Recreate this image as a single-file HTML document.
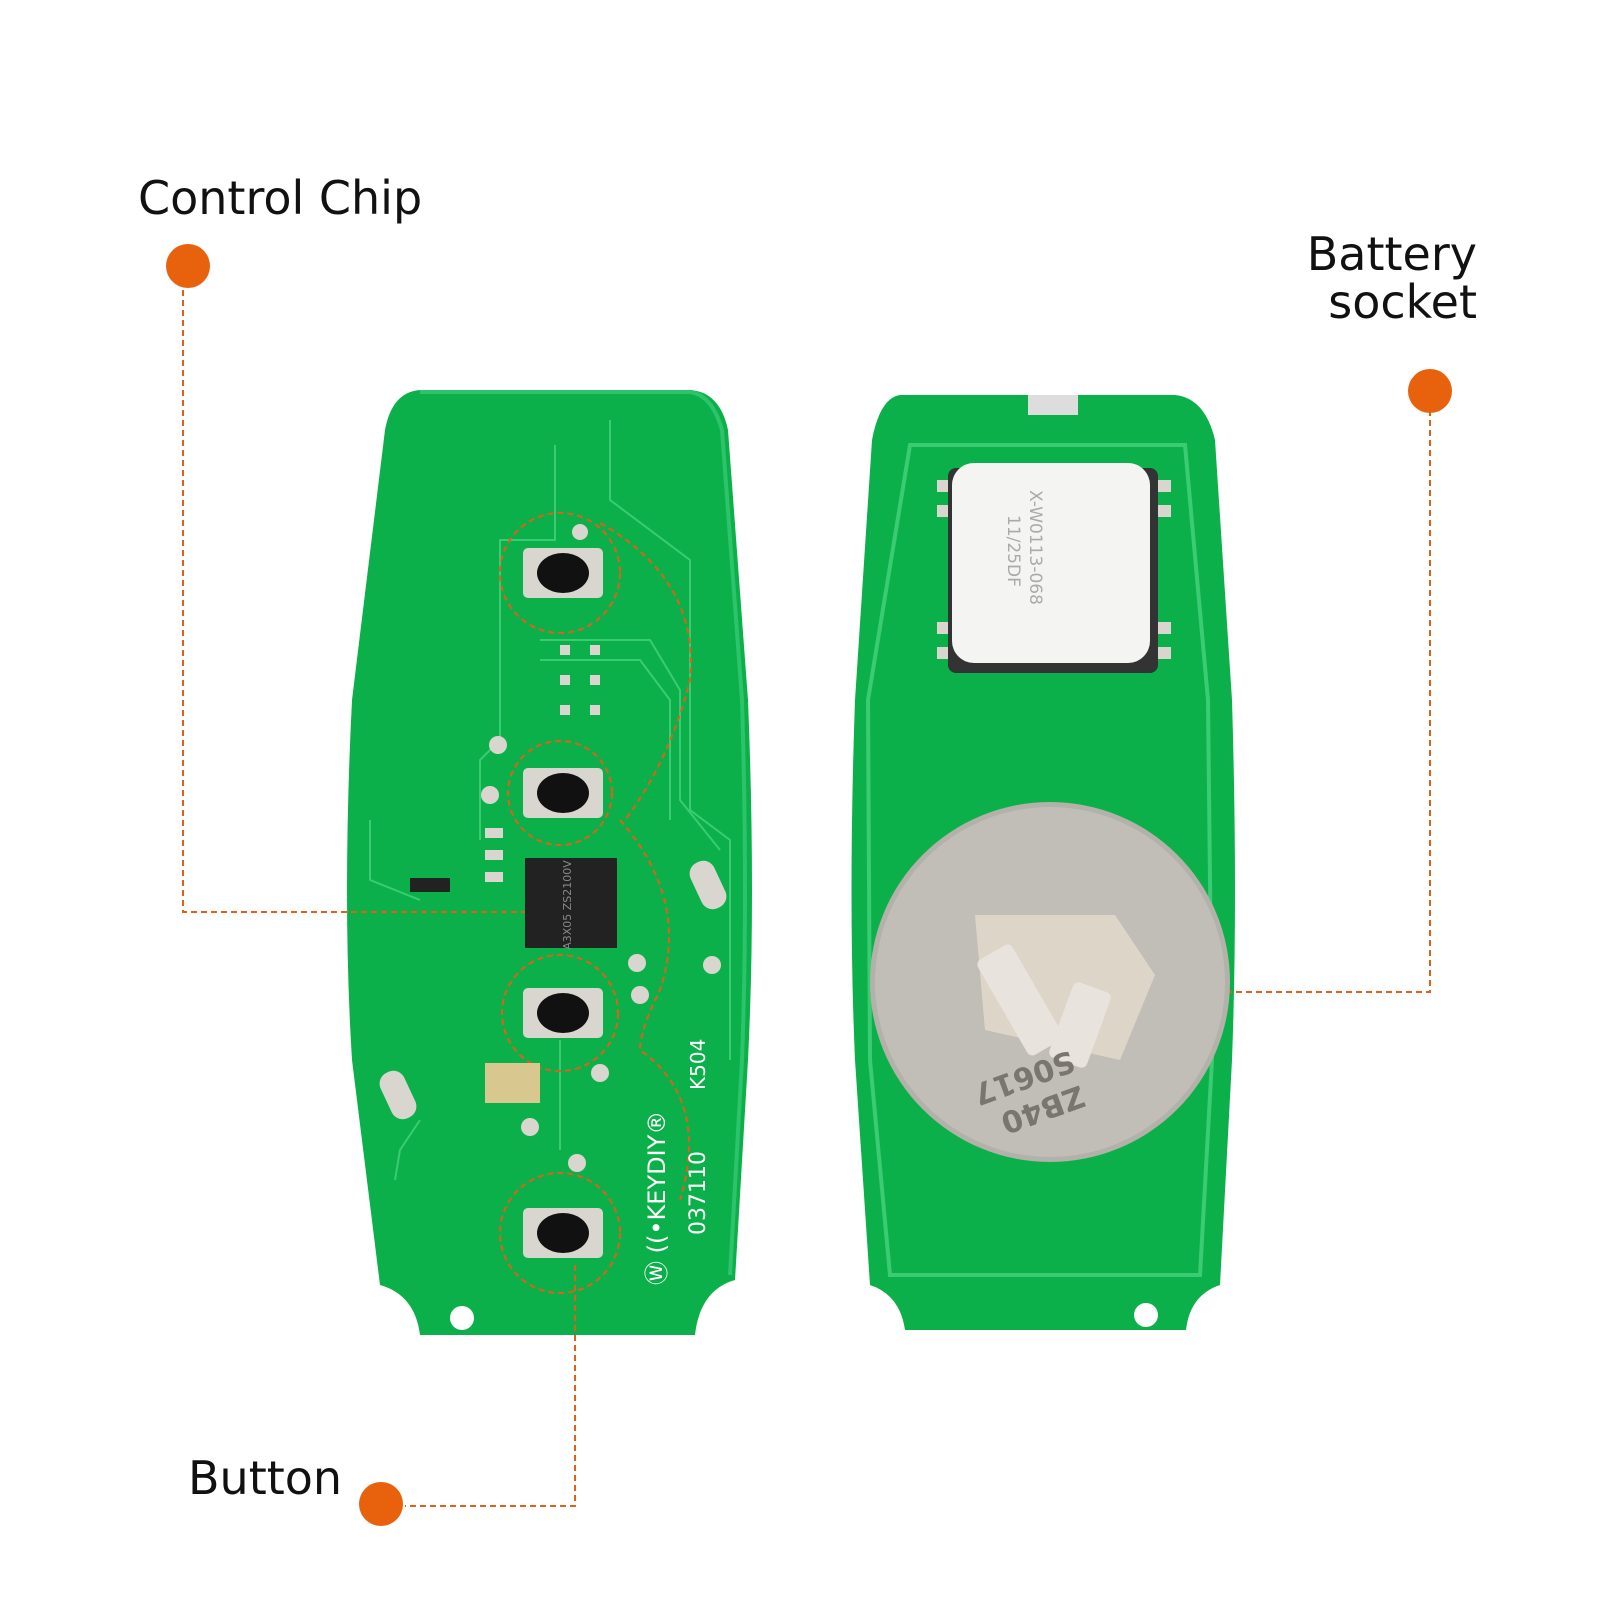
<!DOCTYPE html>
<html><head><meta charset="utf-8"><style>
html,body{margin:0;padding:0;background:#fff;}
svg{display:block}
text{font-family:"DejaVu Sans","Liberation Sans",sans-serif;}
</style></head><body>
<svg width="1600" height="1600" viewBox="0 0 1600 1600" xmlns="http://www.w3.org/2000/svg">
<rect width="1600" height="1600" fill="#fff"/>
<!-- left PCB -->
<path d="M420,390 L690,390 Q720,392 728,430 L748,700 Q756,900 748,1060 L735,1280 Q700,1290 695,1335 L420,1335 Q415,1295 380,1285 L352,1060 Q342,900 352,700 L385,430 Q392,392 420,390 Z" fill="#0cb04a"/>
<path d="M420,392 L690,392 Q712,395 722,430 L742,700 Q748,900 742,1060 L730,1275" fill="none" stroke="#2cc36a" stroke-width="4"/>
<g fill="none" stroke="#3bcb72" stroke-width="2">
<path d="M555,445 L555,540 L500,540 L500,740 L480,760 L480,840"/>
<path d="M610,420 L610,500 L690,560 L690,810 L730,840 L730,1060"/>
<path d="M540,640 L650,640 L680,690 L680,800 L720,850"/>
<path d="M540,660 L640,660 L670,700 L670,820"/>
<path d="M560,1040 L560,1150"/>
<path d="M420,1120 L400,1150 L395,1180"/>
<path d="M370,820 L370,880 L420,900"/>
</g>
<!-- buttons -->
<g>
<rect x="523" y="548" width="80" height="50" rx="5" fill="#d8d6cf"/><ellipse cx="563" cy="573" rx="26" ry="20" fill="#111"/>
<rect x="523" y="768" width="80" height="50" rx="5" fill="#d8d6cf"/><ellipse cx="563" cy="793" rx="26" ry="20" fill="#111"/>
<rect x="523" y="988" width="80" height="50" rx="5" fill="#d8d6cf"/><ellipse cx="563" cy="1013" rx="26" ry="20" fill="#111"/>
<rect x="523" y="1208" width="80" height="50" rx="5" fill="#d8d6cf"/><ellipse cx="563" cy="1233" rx="26" ry="20" fill="#111"/>
</g>
<g fill="none" stroke="#e0601a" stroke-width="2" stroke-dasharray="6,4">
<circle cx="560" cy="573" r="60"/><circle cx="560" cy="793" r="52"/><circle cx="560" cy="1013" r="58"/><circle cx="560" cy="1233" r="60"/>
<path d="M600,523 Q700,580 690,680 Q670,760 625,820"/>
<path d="M620,820 Q690,900 660,990 Q640,1030 640,1050 Q710,1100 680,1200"/>
</g>
<!-- chip -->
<rect x="525" y="858" width="92" height="90" fill="#222"/>
<text x="571" y="905" font-size="11" fill="#888" text-anchor="middle" transform="rotate(-90 571 905)">A3X05 ZS2100V</text>
<g fill="#d8d6cf">
<rect x="560" y="645" width="10" height="10"/><rect x="590" y="645" width="10" height="10"/>
<rect x="560" y="675" width="10" height="10"/><rect x="590" y="675" width="10" height="10"/>
<rect x="560" y="705" width="10" height="10"/><rect x="590" y="705" width="10" height="10"/>
<rect x="485" y="828" width="18" height="10"/><rect x="485" y="850" width="18" height="10"/><rect x="485" y="872" width="18" height="10"/>
<rect x="410" y="878" width="40" height="14" fill="#222"/>
<rect x="485" y="1063" width="55" height="40" fill="#d8c890"/>
<circle cx="498" cy="745" r="9"/><circle cx="490" cy="795" r="9"/><circle cx="580" cy="532" r="8"/>
<circle cx="637" cy="963" r="9"/><circle cx="640" cy="995" r="9"/><circle cx="712" cy="965" r="9"/>
<circle cx="600" cy="1073" r="9"/><circle cx="530" cy="1127" r="9"/><circle cx="577" cy="1163" r="9"/>
<rect x="695" y="860" width="26" height="50" rx="12" transform="rotate(-25 708 885)"/>
<rect x="385" y="1070" width="26" height="50" rx="12" transform="rotate(-25 398 1095)"/>
</g>
<circle cx="462" cy="1318" r="12" fill="#fff"/>
<text x="0" y="0" font-size="24" fill="#fff" transform="translate(665 1285) rotate(-90)">Ⓦ ((•KEYDIY®</text>
<text x="0" y="0" font-size="22" fill="#fff" transform="translate(705 1235) rotate(-90)">037110</text>
<text x="0" y="0" font-size="20" fill="#fff" transform="translate(705 1090) rotate(-90)">K504</text>
<!-- right PCB -->
<path d="M900,395 L1175,395 Q1205,398 1215,440 L1232,700 Q1238,900 1232,1060 L1220,1285 Q1190,1295 1186,1330 L905,1330 Q900,1295 870,1285 L855,1060 Q848,900 855,700 L872,440 Q880,398 900,395 Z" fill="#0cb04a"/>
<path d="M910,445 L1185,445 L1208,700 L1212,1060 L1200,1275 L890,1275 L870,1060 L868,700 Z" fill="none" stroke="#3bcb72" stroke-width="4"/>
<rect x="1028" y="395" width="50" height="20" fill="#ddd"/>
<g fill="#d8d6cf">
<rect x="937" y="480" width="14" height="12"/><rect x="937" y="505" width="14" height="12"/><rect x="937" y="622" width="14" height="12"/><rect x="937" y="647" width="14" height="12"/>
<rect x="1157" y="480" width="14" height="12"/><rect x="1157" y="505" width="14" height="12"/><rect x="1157" y="622" width="14" height="12"/><rect x="1157" y="647" width="14" height="12"/>
</g>
<rect x="948" y="468" width="210" height="205" rx="8" fill="#333"/>
<rect x="952" y="463" width="198" height="200" rx="22" fill="#f4f4f2"/>
<text x="0" y="0" font-size="17" fill="#aaa" transform="translate(1030 490) rotate(90)">X-W0113-068</text>
<text x="0" y="0" font-size="17" fill="#aaa" transform="translate(1008 515) rotate(90)">11/25DF</text>
<circle cx="1050" cy="982" r="180" fill="#b4b0aa"/>
<circle cx="1050" cy="982" r="175" fill="#c1bdb7"/>
<path d="M975,915 L1115,915 L1155,975 L1120,1060 L985,1030 Z" fill="#ddd6c8"/>
<rect x="1000" y="945" width="40" height="110" rx="6" fill="#e8e3dc" transform="rotate(-30 1020 1000)"/>
<rect x="1060" y="985" width="40" height="80" rx="6" fill="#e8e3dc" transform="rotate(20 1080 1025)"/>
<text x="0" y="0" font-size="30" fill="#7a7570" font-weight="bold" transform="translate(1080 1085) rotate(160)">ZB40</text>
<text x="0" y="0" font-size="30" fill="#7a7570" font-weight="bold" transform="translate(1070 1050) rotate(160)">S0617</text>
<circle cx="1146" cy="1315" r="12" fill="#fff"/>
<!-- labels -->
<g fill="none" stroke="#e0601a" stroke-width="2" stroke-dasharray="6,4">
<path d="M183,270 L183,912 L525,912"/>
<path d="M1430,390 L1430,992 L1230,992"/>
<path d="M575,1265 L575,1506 L405,1506"/>
</g>
<circle cx="188" cy="266" r="22" fill="#e8620e"/>
<circle cx="1430" cy="391" r="22" fill="#e8620e"/>
<circle cx="381" cy="1504" r="22" fill="#e8620e"/>
<text x="138" y="214" font-size="46" fill="#111">Control Chip</text>
<text x="1477" y="270" font-size="46" fill="#111" text-anchor="end">Battery</text>
<text x="1477" y="318" font-size="46" fill="#111" text-anchor="end">socket</text>
<text x="188" y="1494" font-size="46" fill="#111">Button</text>
</svg>
</body></html>
